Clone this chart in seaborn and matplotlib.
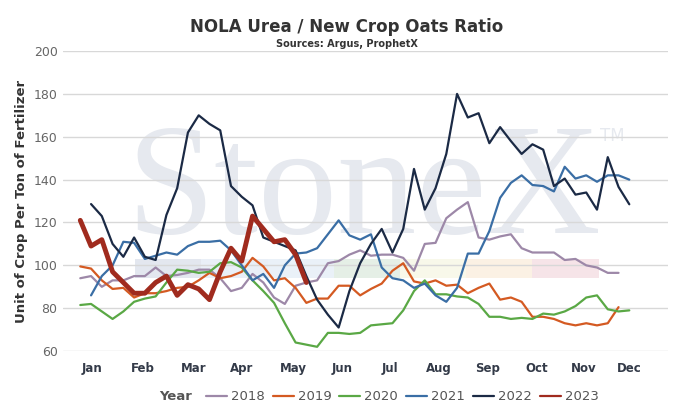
import pandas as pd
import matplotlib.pyplot as plt
import seaborn as sns
from matplotlib.patches import Rectangle

# weekly ratio values, week 0 = first week of Jan
y2018 = [94, 95, 90, 93, 93, 95, 95, 99, 95, 95.5, 96.5, 98, 98, 94, 88, 89.5, 96, 92, 85, 82,
         90.5, 92, 93, 101, 102, 105, 107, 104.5, 105, 105, 103.5, 97.5, 110, 110.5, 122, 126,
         129.5, 113, 112, 113.5, 114.5, 108, 106, 106, 106, 102.5, 103, 100, 99, 96.5, 96.5]
y2019 = [99.5, 98.5, 93, 89, 89.5, 85, 87, 87, 88, 89.5, 90, 93, 96.5, 94, 95, 97, 103.5, 99.5,
         93, 94, 89.5, 82.5, 84.5, 84.5, 90.5, 90.5, 86, 89, 91.5, 97.5, 101, 92.5, 91.5, 93, 90.5,
         91, 87, 89.5, 91.5, 84, 85, 83, 76, 76, 75, 73, 72, 73, 72, 73, 80.5]
y2020 = [81.5, 82, 78.5, 75, 78.5, 83, 84.5, 85.5, 92, 98, 97.5, 96.5, 97, 101, 101.5, 99, 93, 88,
         82.5, 73, 64, 63, 62, 68.5, 68.5, 68, 68.5, 72, 72.5, 73, 79, 88, 93, 86.5, 86.5, 85.5, 85,
         82, 76, 76, 75, 75.5, 75, 77.5, 77, 78.5, 81, 85, 86, 79.5, 78.5, 79]
y2021 = [86, 95, 100, 111, 110.5, 103, 104.5, 106, 105, 109, 111, 111, 111.5, 107, 100, 93, 96,
         89.5, 100, 105.5, 106, 108, 114.5, 121, 114, 112, 114.5, 99, 94, 93, 89.5, 91.5, 86, 83,
         89.5, 105.5, 105.5, 116, 131.5, 138.5, 142, 137.5, 137, 134.5, 146, 140.5, 142, 139, 142,
         142, 140]
y2022 = [128.6, 123, 110, 104, 113, 104, 102.5, 123.5, 136, 162, 170, 166, 163, 137, 132, 128, 113,
         111, 109, 107, 95, 84, 77, 71, 88, 101, 110, 117, 106, 117, 145, 126, 136, 152, 180, 169,
         171, 157, 164.5, 158, 152, 156.5, 154, 137, 140.5, 133, 134, 126, 150.5, 136.6, 128.5]
y2023 = [121, 109, 112, 97, 92, 87, 87, 92, 95, 86, 91, 89, 84, 97, 108, 102, 123, 117, 111, 112,
         105, 92]

months = ['Jan', 'Feb', 'Mar', 'Apr', 'May', 'Jun', 'Jul', 'Aug', 'Sep', 'Oct', 'Nov', 'Dec']
month_pos = [1.1, 5.8, 10.5, 15, 19.8, 24.3, 28.8, 33.3, 37.8, 42.4, 46.8, 51]

series = {
    '2018': (y2018, 0, '#9d88a8', 1.6),
    '2019': (y2019, 0, '#d45a22', 1.6),
    '2020': (y2020, 0, '#5aa845', 1.6),
    '2021': (y2021, 1, '#3a6ea5', 1.6),
    '2022': (y2022, 1, '#1b2a45', 1.6),
    '2023': (y2023, 0, '#a02b1e', 3.5),
}

sns.set_style('white')
fig = plt.figure(figsize=(6.93, 4.15), dpi=100)
ax = fig.add_axes([0.091, 0.154, 0.873, 0.723])

# watermark
ax.text(26.3, 133, 'StoneX', fontsize=114, family='Liberation Serif', color='#e6e9ef',
        ha='center', va='center', zorder=0)
ax.text(48.3, 158, 'TM', fontsize=12, color='#e6e9ef', zorder=0)
band_cols = ['#e3e7ef', '#e9eff7', '#eaf1f8', '#e5efe6', '#f8f8ea', '#fbf1e4', '#f6e4e8']
for i, c in enumerate(band_cols):
    ax.add_patch(Rectangle((5.1 + i * 6.15, 94), 6.15, 9, color=c, lw=0, zorder=0.5))

handles = []
for name, (vals, start, col, lw) in series.items():
    df = pd.DataFrame({'week': range(start, start + len(vals)), 'ratio': vals})
    sns.lineplot(data=df, x='week', y='ratio', color=col, linewidth=lw, ax=ax, zorder=3)
    handles.append(plt.Line2D([], [], color=col, lw=1.6, label=name))

ax.set_xlim(-1.6, 54.6)
ax.set_ylim(60, 200)
ax.set_yticks(range(60, 201, 20))
ax.yaxis.grid(True, color='#d8d8d8', lw=1)
ax.xaxis.grid(False)
for s in ax.spines.values():
    s.set_visible(False)
ax.set_xticks(month_pos)
ax.set_xticklabels(months, fontweight='bold', color='#333a48', fontsize=8.5)
ax.tick_params(axis='y', labelcolor='#666666', labelsize=9, length=0, pad=4)
ax.tick_params(axis='x', length=0, pad=8)
ax.set_xlabel('')
ax.set_ylabel('Unit of Crop Per Ton of Fertilizer', fontweight='bold', fontsize=9.5, color='#333333')

fig.text(0.5, 0.922, 'NOLA Urea / New Crop Oats Ratio', ha='center', fontsize=12,
         fontweight='bold', color='#333333')
fig.text(0.5, 0.887, 'Sources: Argus, ProphetX', ha='center', fontsize=7, fontweight='bold',
         color='#333333')

fig.text(0.23, 0.035, 'Year', fontweight='bold', fontsize=9.5, color='#555555')
fig.legend(handles=handles, loc='lower left', bbox_to_anchor=(0.28, 0.0), ncol=6, frameon=False,
           fontsize=9.5, handlelength=1.6, handletextpad=0.3, columnspacing=0.6,
           labelcolor='#555555')

plt.savefig('out.png', dpi=100)
